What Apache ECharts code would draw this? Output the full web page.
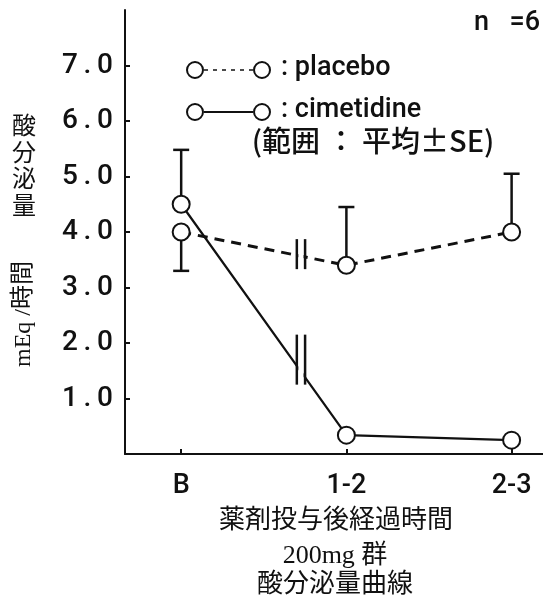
<!DOCTYPE html>
<html>
<head>
<meta charset="utf-8">
<script src="https://cdn.jsdelivr.net/npm/echarts@6/dist/echarts.min.js"></script>
<style>
  html, body { margin: 0; padding: 0; background: #fff; }
  #chart { width: 543px; height: 598px; }
</style>
</head>
<body>
<div id="chart"></div>
<script>
// Time points after dosing (B = baseline)
const categories = ['B', '1-2', '2-3'];
// Mean acid output, mEq/hour
const placeboMean = [4.0, 3.4, 4.0];
const cimetidineMean = [4.5, 0.34, 0.25];
// End of the SE whisker for each point (null = none drawn)
const placeboSEEnd = [3.3, 4.45, 5.05];
const cimetidineSEEnd = [5.48, null, null];
// Y tick labels
const yTicks = [1, 2, 3, 4, 5, 6, 7];
// Axis-break positions on the B -> 1-2 segment
const breakAt = [0.70, 0.75];

const INK = '#111';
const catIndex = categories.map((c, i) => i);

const toPoints = (vals) => vals.map((v, i) => [i, v]);
const toErr = (means, ends) =>
  means.map((m, i) => (ends[i] == null ? null : [i, m, ends[i]])).filter(Boolean);

function renderError(params, api) {
  const x = api.value(0), m = api.value(1), e = api.value(2);
  const p0 = api.coord([x, m]);
  const p1 = api.coord([x, e]);
  const s = { stroke: INK, lineWidth: 2.5 };
  return {
    type: 'group',
    children: [
      { type: 'line', shape: { x1: p0[0], y1: p0[1], x2: p1[0], y2: p1[1] }, style: s },
      { type: 'line', shape: { x1: p1[0] - 8, y1: p1[1], x2: p1[0] + 8, y2: p1[1] }, style: s }
    ]
  };
}

// Double-bar break drawn on the segment between the first two points of a line
function makeBreakRenderer(means, halfLen, shift) {
  return function (params, api) {
    const a = means[0], b = means[1];
    const yAt = (x) => a + (b - a) * x;
    const pL = api.coord([breakAt[0], yAt(breakAt[0])]);
    const pR = api.coord([breakAt[1], yAt(breakAt[1])]);
    const cy = (pL[1] + pR[1]) / 2 + shift;
    const s = { stroke: INK, lineWidth: 2.5 };
    return {
      type: 'group',
      children: [
        {
          type: 'rect',
          shape: { x: pL[0] + 1.5, y: Math.min(pL[1], pR[1]) - 4, width: pR[0] - pL[0] - 3,
                   height: Math.abs(pR[1] - pL[1]) + 8 },
          style: { fill: '#fff' }
        },
        { type: 'line', shape: { x1: pL[0], y1: cy - halfLen, x2: pL[0], y2: cy + halfLen }, style: s },
        { type: 'line', shape: { x1: pR[0], y1: cy - halfLen, x2: pR[0], y2: cy + halfLen }, style: s }
      ]
    };
  };
}

const markerStyle = { color: '#fff', borderColor: INK, borderWidth: 2 };
const serifFont = '"Liberation Serif", "Noto Sans CJK JP", serif';
const sansFont = 'Roboto, "DejaVu Sans", sans-serif';

const option = {
  backgroundColor: '#fff',
  animation: false,
  grid: { left: 125, right: 0, top: 10, bottom: 144 },
  xAxis: {
    type: 'value',
    min: -0.34,
    max: 2.19,
    splitLine: { show: false },
    axisLine: { lineStyle: { color: INK, width: 2 } },
    axisTick: { inside: true, length: 5, lineStyle: { color: INK, width: 2 }, customValues: catIndex },
    axisLabel: {
      customValues: catIndex,
      formatter: (v) => categories[Math.round(v)],
      color: INK,
      fontFamily: sansFont,
      fontWeight: 500,
      fontSize: 27,
      margin: 19
    }
  },
  yAxis: {
    type: 'value',
    min: 0,
    max: 8,
    splitLine: { show: false },
    axisLine: { show: true, onZero: false, lineStyle: { color: INK, width: 2 } },
    axisTick: { show: true, inside: true, length: 5, lineStyle: { color: INK, width: 2 }, customValues: yTicks },
    axisLabel: {
      customValues: yTicks,
      formatter: (v) => v.toFixed(1).replace('.', '\u2009.\u2009'),
      color: INK,
      fontFamily: sansFont,
      fontWeight: 500,
      fontSize: 28,
      margin: 12
    }
  },
  series: [
    { type: 'custom', renderItem: renderError, data: toErr(placeboMean, placeboSEEnd), z: 1, silent: true },
    { type: 'custom', renderItem: renderError, data: toErr(cimetidineMean, cimetidineSEEnd), z: 1, silent: true },
    {
      name: 'placebo',
      type: 'line',
      data: toPoints(placeboMean),
      symbol: 'circle',
      symbolSize: 17,
      itemStyle: markerStyle,
      lineStyle: { color: INK, width: 3, type: [10, 7] },
      z: 2
    },
    {
      name: 'cimetidine',
      type: 'line',
      data: toPoints(cimetidineMean),
      symbol: 'circle',
      symbolSize: 17,
      itemStyle: markerStyle,
      lineStyle: { color: INK, width: 2.2 },
      z: 2
    },
    { type: 'custom', renderItem: makeBreakRenderer(placeboMean, 15, -2), data: [[0, 0]], z: 3, silent: true },
    { type: 'custom', renderItem: makeBreakRenderer(cimetidineMean, 25, -12), data: [[0, 0]], z: 3, silent: true }
  ],
  graphic: [
    // sample size
    { type: 'text', right: 3, top: 10,
      style: { text: 'n \u2002=6', font: '500 27px ' + sansFont, fill: INK } },
    // legend: placebo
    { type: 'line', shape: { x1: 204, y1: 70, x2: 253, y2: 70 }, style: { stroke: INK, lineWidth: 1.6, lineDash: [4, 5] } },
    { type: 'circle', shape: { cx: 195, cy: 70, r: 8 }, style: { fill: '#fff', stroke: INK, lineWidth: 2 } },
    { type: 'circle', shape: { cx: 262, cy: 70, r: 8 }, style: { fill: '#fff', stroke: INK, lineWidth: 2 } },
    { type: 'text', x: 281, y: 68,
      style: { text: ': placebo', font: '500 27px ' + sansFont, fill: INK, verticalAlign: 'middle' } },
    // legend: cimetidine
    { type: 'line', shape: { x1: 204, y1: 112, x2: 253, y2: 112 }, style: { stroke: INK, lineWidth: 2.2 } },
    { type: 'circle', shape: { cx: 195, cy: 112, r: 8 }, style: { fill: '#fff', stroke: INK, lineWidth: 2 } },
    { type: 'circle', shape: { cx: 262, cy: 112, r: 8 }, style: { fill: '#fff', stroke: INK, lineWidth: 2 } },
    { type: 'text', x: 281, y: 110,
      style: { text: ': cimetidine', font: '500 27px ' + sansFont, fill: INK, verticalAlign: 'middle' } },
    { type: 'text', x: 373, y: 141,
      style: { text: '(範囲 ： 平均±SE)', font: '500 29px "Noto Sans CJK JP", sans-serif', fill: INK,
               align: 'center', verticalAlign: 'middle' } },
    // y-axis title
    { type: 'text', x: 24, y: 165,
      style: { text: '酸\n分\n泌\n量', font: '24px "Noto Sans CJK JP", sans-serif', lineHeight: 26.5,
               fill: INK, align: 'center', verticalAlign: 'middle' } },
    { type: 'text', x: 24, y: 314, rotation: Math.PI / 2,
      style: { text: 'mEq /時間', font: '24px ' + serifFont, fill: INK, align: 'center', verticalAlign: 'middle' } },
    // x-axis title block
    { type: 'text', x: 336, y: 521,
      style: { text: '薬剤投与後経過時間', font: '26px ' + serifFont, fill: INK, align: 'center', verticalAlign: 'middle' } },
    { type: 'text', x: 335, y: 556,
      style: { text: '200mg 群', font: '26px ' + serifFont, fill: INK, align: 'center', verticalAlign: 'middle' } },
    { type: 'text', x: 335, y: 585,
      style: { text: '酸分泌量曲線', font: '26px ' + serifFont, fill: INK, align: 'center', verticalAlign: 'middle' } }
  ]
};

const chart = echarts.init(document.getElementById('chart'), null, { renderer: 'canvas' });
chart.setOption(option);
</script>
</body>
</html>
